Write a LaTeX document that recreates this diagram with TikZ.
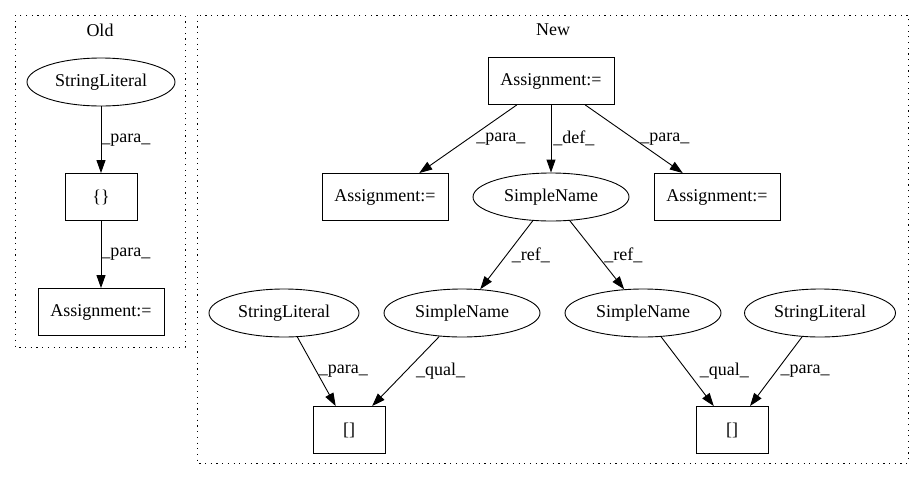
\documentclass[tikz,border=0pt]{standalone}
\usepackage{fontspec}
\setmainfont{Liberation Serif}
\usetikzlibrary{shapes.geometric,arrows.meta}

\begin{document}
\begin{tikzpicture}[x=1pt, y=1pt, font=\fontsize{18}{22}\selectfont,
>={Triangle[length=13pt,width=9pt]}, line width=0.9pt,
box/.style={rectangle, draw, minimum width=126pt, minimum height=47pt, inner sep=2pt},
sbox/.style={box, minimum width=72pt},
oval/.style={ellipse, draw, minimum width=150pt, minimum height=48pt, inner sep=0pt},
cluster/.style={draw, line width=0.9pt, dash pattern=on 1.2pt off 4.5pt},
lbl/.style={right, inner sep=2pt, midway}]
 \useasboundingbox (0,0) rectangle (915,-480);

 % clusters
 \draw[cluster] (15,-15) rectangle (185,-347);
 \draw[cluster] (197,-15) rectangle (908,-463);
 \node (oldlbl) at (100,-30) {Old};
 \node (newlbl) at (553,-30) {New};

 % old
 \node[oval, minimum width=148pt] (strold) at (101,-82) {StringLiteral};
 \node[sbox] (braces) at (101,-197) {\{\}};
 \node[box] (asgold) at (101,-312) {Assignment:=};

 \draw[->] (strold) -- node[lbl, inner sep=0pt] {\_para\_} (braces);
 \draw[->] (braces) -- node[lbl, inner sep=0pt] {\_para\_} (asgold);

 % new
 \node[box] (asgtop) at (551,-81) {Assignment:=};
 \node[box] (asgleft) at (385,-197) {Assignment:=};
 \node[oval, minimum width=156pt] (name) at (551,-197) {SimpleName};
 \node[box] (asgright) at (717,-197) {Assignment:=};
 \node[oval] (strleft) at (284,-313) {StringLiteral};
 \node[oval, minimum width=156pt] (nameleft) at (462,-313) {SimpleName};
 \node[oval, minimum width=156pt] (nameright) at (643,-313) {SimpleName};
 \node[oval, minimum width=151pt] (strright) at (820,-313) {StringLiteral};
 \node[sbox] (idxleft) at (349,-430) {[]};
 \node[sbox] (idxright) at (732,-430) {[]};

 \draw[->] (asgtop) -- node[lbl, xshift=6pt] {\_para\_} (asgleft);
 \draw[->] (asgtop) -- node[lbl] {\_def\_} (name);
 \draw[->] (asgtop) -- node[lbl, xshift=4pt] {\_para\_} (asgright);
 \draw[->] (name) -- node[lbl, xshift=3pt] {\_ref\_} (nameleft);
 \draw[->] (name) -- node[lbl, xshift=5pt] {\_ref\_} (nameright);
 \draw[->] (strleft) -- node[lbl] {\_para\_} (idxleft);
 \draw[->] (nameleft) -- node[lbl, xshift=8pt] {\_qual\_} (idxleft);
 \draw[->] (nameright) -- node[lbl, xshift=10pt] {\_qual\_} (idxright);
 \draw[->] (strright) -- node[lbl, xshift=2pt] {\_para\_} (idxright);
\end{tikzpicture}
\end{document}
